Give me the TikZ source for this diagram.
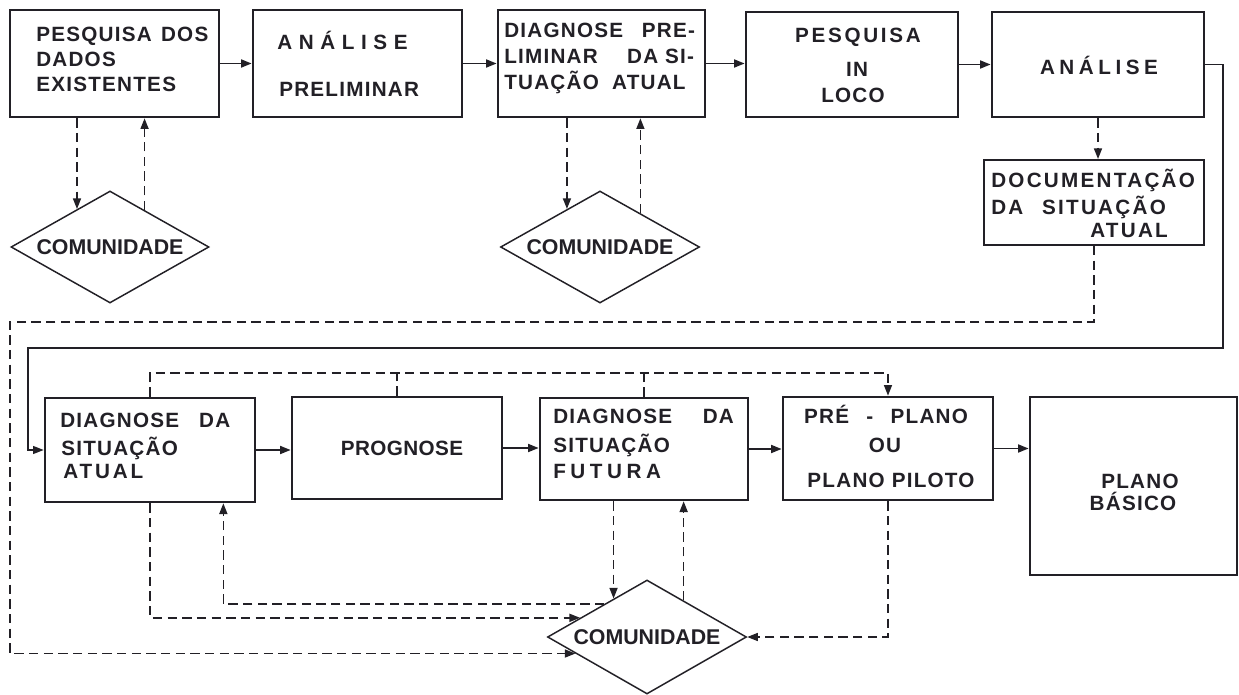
\documentclass[tikz,border=0pt]{standalone}
\usepackage{fontspec}
\setmainfont{Liberation Sans}
\usetikzlibrary{shapes.geometric,arrows.meta,fit}
\definecolor{ink}{HTML}{222026}
\newcommand\boxfont{\fontsize{15.5}{18}\selectfont\bfseries\addfontfeature{LetterSpace=6}}
\newcommand\spc[2]{{\addfontfeature{LetterSpace=#1}#2}}
\begin{document}
\begin{tikzpicture}[x=0.75pt,y=-0.75pt,
  box/.style={draw=ink,line width=2pt,inner sep=0pt},
  docbox/.style={draw=ink,line width=1.5pt,inner sep=0pt},
  txt/.style={inner sep=0pt,font=\boxfont,text=ink},
  dia/.style={diamond,aspect=1.77,draw=ink,line width=1.1pt,inner sep=0pt,text=ink,
    font=\fontsize{16}{18}\selectfont\bfseries},
  flow/.style={draw=ink,line width=1.4pt,-{Triangle[length=8pt,width=6pt]}},
  conn/.style={draw=ink,line width=1pt},
  dline/.style={draw=ink,line width=1.2pt,dash pattern=on 7pt off 4pt},
  dflow/.style={dline,-{Triangle[length=8pt,width=6pt]}}]
\fill[white] (0,0) rectangle (1239,695);
\useasboundingbox (0,0) rectangle (1239,695);

% ---------- top row boxes ----------
\node[box,fit={(10,10) (219,117)}] (b1) {};
\node[box,fit={(253,10) (462,117)}] (b2) {};
\node[box,fit={(498,10) (705,117)}] (b3) {};
\node[box,fit={(746,12) (958,117)}] (b4) {};
\node[box,fit={(992,12) (1204,117)}] (b5) {};
\node[docbox,fit={(984,160) (1204,245)}] (doc) {};

\node[txt,anchor=base west] (t1a) at (36,42) {PESQUISA\hspace{7pt}DOS};
\node[txt,anchor=base west] (t1b) at (36,67) {DADOS};
\node[txt,anchor=base west] (t1c) at (36,92) {EXISTENTES};

\node[txt,anchor=base west] (t2a) at (277,50) {\spc{32}{ANÁLISE}};
\node[txt,anchor=base west] (t2b) at (279,97) {PRELIMINAR};

\node[txt,anchor=base west] (t3a) at (504,38) {DIAGNOSE\hspace{14pt}PRE-};
\node[txt,anchor=base west] (t3b) at (504,64) {LIMINAR\hspace{22pt}DA SI-};
\node[txt,anchor=base west] (t3c) at (504,90) {TUAÇÃO\hspace{10pt}ATUAL};

\node[txt,anchor=base] (t4a) at (858,43) {\spc{13}{PESQUISA}};
\node[txt,anchor=base] (t4b) at (857,77) {IN};
\node[txt,anchor=base] (t4c) at (853,103) {LOCO};

\node[txt,anchor=base] (t5) at (1099,75) {\spc{22}{ANÁLISE}};

\node[txt,anchor=base west] (d1) at (991,188) {\spc{11}{DOCUMENTAÇÃO}};
\node[txt,anchor=base west] (d2) at (991,215) {\spc{11}{DA\hspace{14pt}SITUAÇÃO}};
\node[txt,anchor=base west] (d3t) at (1090,238) {\spc{11}{ATUAL}};

% ---------- bottom row boxes ----------
\node[box,fit={(45,398) (255,502)}] (b6) {};
\node[box,fit={(292,397) (502,499)}] (b7) {};
\node[box,fit={(540,398) (748,500)}] (b8) {};
\node[box,fit={(783,397) (993,500)}] (b9) {};
\node[box,fit={(1030,397) (1237,575)}] (b10) {};

\node[txt,anchor=base west] (t6a) at (60,427) {DIAGNOSE\hspace{15pt}DA};
\node[txt,anchor=base west] (t6b) at (61,455) {SITUAÇÃO};
\node[txt,anchor=base west] (t6c) at (63,478) {\spc{14}{ATUAL}};

\node[txt,anchor=base] (t7) at (402,455) {\spc{2}{PROGNOSE}};

\node[txt,anchor=base west] (t8a) at (553,423) {DIAGNOSE\hspace{23pt}DA};
\node[txt,anchor=base west] (t8b) at (553,452) {SITUAÇÃO};
\node[txt,anchor=base west] (t8c) at (553,478) {\spc{22}{FUTURA}};

\node[txt,anchor=base] (t9a) at (886,423) {PRÉ\hspace{13pt}-\hspace{13pt}PLANO};
\node[txt,anchor=base] (t9b) at (885,452) {OU};
\node[txt,anchor=base] (t9c) at (891,487) {PLANO PILOTO};

\node[txt,anchor=base] (t10a) at (1140,488) {PLANO};
\node[txt,anchor=base] (t10b) at (1133,510) {BÁSICO};

% ---------- diamonds ----------
\node[dia,minimum width=148.5pt,minimum height=84pt] (c1) at (110,247) {COMUNIDADE};
\node[dia,minimum width=149.25pt,minimum height=84pt] (c2) at (600,247) {COMUNIDADE};
\node[dia,minimum width=149.25pt,minimum height=85.5pt] (c3) at (647,637) {COMUNIDADE};

% ---------- solid flow, top ----------
\draw[flow] (b1.east) -- (b1.east -| b2.west);
\draw[flow] (b2.east) -- (b2.east -| b3.west);
\draw[flow] (b3.east) -- (b3.east -| b4.west);
\draw[flow] (b4.east) -- (b4.east -| b5.west);

% ---------- long return connector ----------
\coordinate (r1) at (1223,348);
\coordinate (r2) at (28,348);
\draw[conn,-{Triangle[length=8pt,width=6pt]}] (b5.east) -| (r1) -- (r2) |- (b6.west);

% ---------- solid flow, bottom ----------
\draw[flow] (b6.east) -- (b6.east -| b7.west);
\draw[flow] (b7.east) -- (b7.east -| b8.west);
\draw[flow] (b8.east) -- (b8.east -| b9.west);
\draw[flow] (b9.east) -- (b9.east -| b10.west);

% ---------- dashed: top diamonds ----------
\draw[dflow] (b1.south -| c1.131) -- (c1.131);
\draw[dflow] (c1.47) -- (c1.47 |- b1.south);
\draw[dflow] (b3.south -| c2.131) -- (c2.131);
\draw[dflow] (c2.40) -- (c2.40 |- b3.south);

% ---------- dashed: documentation ----------
\draw[dflow] (b5.south) -- (b5.south |- doc.north);
\coordinate (q1) at (10,322);
\draw[dflow] (doc.south) |- (q1) |- (c3.193);

% ---------- dashed: bus over bottom row ----------
\coordinate (bus9) at (888,373);
\draw[dflow] (b6.north) |- (bus9) -- (b9.north);
\draw[dline] (b7.north) -- (b7.north |- bus9);
\draw[dline] (b8.north) -- (b8.north |- bus9);

% ---------- dashed: bottom diamond ----------
\draw[dflow] (b8.south -| c3.131) -- (c3.131);
\draw[dflow] (c3.45) -- (c3.45 |- b8.south);
\draw[dflow] (b6.south) |- (c3.164);
\draw[dflow] (c3.142) -| ([xshift=55pt]b6.south);
\draw[dflow] (b9.south) |- (c3.east);
\end{tikzpicture}
\end{document}
